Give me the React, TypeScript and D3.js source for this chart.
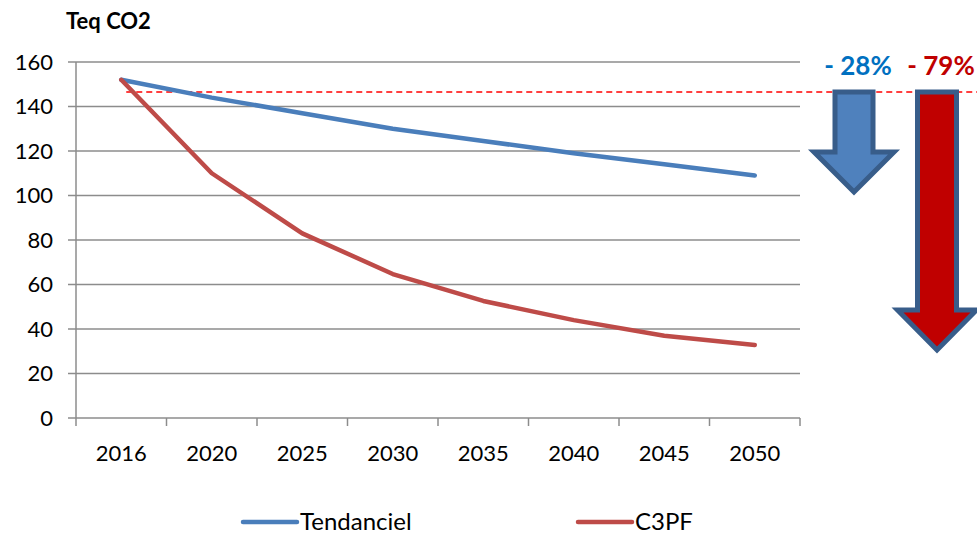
import React, { useEffect, useRef } from "react";
import * as d3 from "d3";

const years = ["2016", "2020", "2025", "2030", "2035", "2040", "2045", "2050"];
const tendanciel = [152, 144, 137, 130, 124.5, 119, 114, 109];
const c3pf = [152, 110, 83, 64.7, 52.6, 44, 37, 32.8];
const yTicks = [0, 20, 40, 60, 80, 100, 120, 140, 160];
const refLevel = 146.5;
const arrows = [
  { label: "- 28%", tip: 101.6, fill: "#4F81BD", text: "#0070C0", cx: 854, shaftW: 38, headW: 80, headH: 40 },
  { label: "- 79%", tip: 30.6, fill: "#C00000", text: "#C00000", cx: 937, shaftW: 39, headW: 79, headH: 40 },
];

const FONT = "Lato, 'Open Sans', sans-serif";

export default function App() {
  const ref = useRef<SVGSVGElement | null>(null);
  const width = 977;
  const height = 538;

  useEffect(() => {
    const svg = d3.select(ref.current);
    svg.selectAll("*").remove();

    const margin = { top: 62, right: 177, bottom: 120, left: 76 };

    const x = d3
      .scaleBand()
      .domain(years)
      .range([margin.left, width - margin.right]);

    const y = d3
      .scaleLinear()
      .domain([0, 160])
      .range([height - margin.bottom, margin.top]);

    // gridlines
    svg
      .append("g")
      .selectAll("line")
      .data(yTicks.filter((t) => t > 0))
      .join("line")
      .attr("x1", margin.left - 8)
      .attr("x2", width - margin.right)
      .attr("y1", (d) => y(d))
      .attr("y2", (d) => y(d))
      .attr("stroke", "#8c8c8c")
      .attr("stroke-width", 1.5);

    // axes
    svg
      .append("line")
      .attr("x1", margin.left)
      .attr("x2", margin.left)
      .attr("y1", y(160))
      .attr("y2", y(0) + 8)
      .attr("stroke", "#8c8c8c")
      .attr("stroke-width", 1.5);
    svg
      .append("line")
      .attr("x1", margin.left - 8)
      .attr("x2", width - margin.right)
      .attr("y1", y(0))
      .attr("y2", y(0))
      .attr("stroke", "#8c8c8c")
      .attr("stroke-width", 1.5);

    svg
      .append("g")
      .selectAll("text")
      .data(yTicks)
      .join("text")
      .attr("x", 53)
      .attr("y", (d) => y(d))
      .attr("dy", "0.36em")
      .attr("text-anchor", "end")
      .attr("font-family", FONT)
      .attr("font-size", 22)
      .attr("fill", "#000")
      .text((d) => d);

    // x ticks
    const bounds = years.map((d) => x(d)!).concat([x(years[years.length - 1])! + x.bandwidth()]);
    svg
      .append("g")
      .selectAll("line")
      .data(bounds.slice(1))
      .join("line")
      .attr("x1", (d) => d)
      .attr("x2", (d) => d)
      .attr("y1", y(0))
      .attr("y2", y(0) + 8)
      .attr("stroke", "#8c8c8c")
      .attr("stroke-width", 1.5);

    svg
      .append("g")
      .selectAll("text")
      .data(years)
      .join("text")
      .attr("x", (d) => x(d)! + x.bandwidth() / 2)
      .attr("y", 461)
      .attr("text-anchor", "middle")
      .attr("font-family", FONT)
      .attr("font-size", 22)
      .attr("fill", "#000")
      .text((d) => d);

    // title
    svg
      .append("text")
      .attr("x", 66)
      .attr("y", 29)
      .attr("font-family", FONT)
      .attr("font-weight", "bold")
      .attr("font-size", 22)
      .text("Teq CO2");

    // reference dashed line
    svg
      .append("line")
      .attr("x1", x(years[0])! + x.bandwidth() / 2 + 5)
      .attr("x2", width)
      .attr("y1", y(refLevel))
      .attr("y2", y(refLevel))
      .attr("stroke", "#FF0000")
      .attr("stroke-width", 1.5)
      .attr("stroke-dasharray", "6,4");

    const line = d3
      .line<number>()
      .x((_, i) => x(years[i])! + x.bandwidth() / 2)
      .y((d) => y(d));

    const series = [
      { values: tendanciel, color: "#4A7EBB" },
      { values: c3pf, color: "#BE4B48" },
    ];
    series.forEach((s) => {
      svg
        .append("path")
        .datum(s.values)
        .attr("fill", "none")
        .attr("stroke", s.color)
        .attr("stroke-width", 4.5)
        .attr("stroke-linecap", "round")
        .attr("stroke-linejoin", "round")
        .attr("d", line);
    });

    // arrows
    arrows.forEach((a) => {
      const top = y(refLevel);
      const tipY = y(a.tip);
      const shaftBottom = tipY - a.headH;
      const sw = a.shaftW / 2;
      const hw = a.headW / 2;
      const pts: [number, number][] = [
        [a.cx - sw, top],
        [a.cx + sw, top],
        [a.cx + sw, shaftBottom],
        [a.cx + hw, shaftBottom],
        [a.cx, tipY],
        [a.cx - hw, shaftBottom],
        [a.cx - sw, shaftBottom],
      ];
      svg
        .append("polygon")
        .attr("points", pts.map((p) => p.join(",")).join(" "))
        .attr("fill", a.fill)
        .attr("stroke", "#385D8A")
        .attr("stroke-width", 5)
        .attr("stroke-linejoin", "miter");
      svg
        .append("text")
        .attr("x", a.cx + 4)
        .attr("y", 75)
        .attr("text-anchor", "middle")
        .attr("font-family", FONT)
        .attr("font-weight", "bold")
        .attr("font-size", 26)
        .attr("fill", a.text)
        .text(a.label);
    });

    // legend
    const legend = [
      { name: "Tendanciel", color: "#4A7EBB", x0: 243 },
      { name: "C3PF", color: "#BE4B48", x0: 578 },
    ];
    legend.forEach((l) => {
      svg
        .append("line")
        .attr("x1", l.x0)
        .attr("x2", l.x0 + 54)
        .attr("y1", 522)
        .attr("y2", 522)
        .attr("stroke", l.color)
        .attr("stroke-width", 4.5)
        .attr("stroke-linecap", "round");
      svg
        .append("text")
        .attr("x", l.x0 + 57)
        .attr("y", 530)
        .attr("font-family", FONT)
        .attr("font-size", 24)
        .attr("fill", "#000")
        .text(l.name);
    });
  }, []);

  return (
    <svg
      ref={ref}
      width={width}
      height={height}
      style={{ position: "absolute", left: 0, top: 0, background: "#fff" }}
    />
  );
}
